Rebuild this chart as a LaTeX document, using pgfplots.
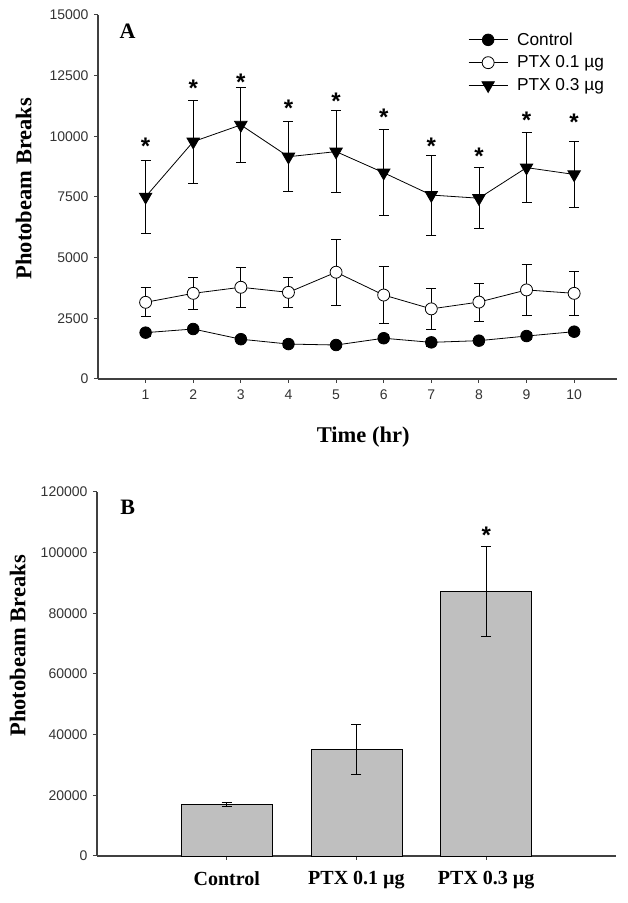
\documentclass[border=0pt]{standalone}
\usepackage{fontspec}
\setmainfont{Liberation Serif}
\newfontfamily\arial{Liberation Sans}
\usepackage{pgfplots}
\pgfplotsset{compat=1.18}

\pgfplotsset{
  panel/.style={
    width=519pt, height=364pt, scale only axis,
    axis x line*=bottom, axis y line*=left,
    axis line style={black!75, line width=1.1pt},
    tick style={black!75, line width=1pt},
    tick align=outside, major tick length=4pt,
    /pgf/number format/assume math mode=true,
    /pgf/number format/fixed,
    /pgf/number format/1000 sep={},
    scaled y ticks=false,
    yticklabel style={font=\arial\fontsize{14}{16}\selectfont, text=black!80, xshift=-2pt},
    ylabel style={font=\bfseries\fontsize{22.5}{26}\selectfont, anchor=center},
    xlabel style={font=\bfseries\fontsize{22.5}{26}\selectfont, anchor=center},
    error bars/error bar style={black, line width=0.8pt},
    error bars/error mark options={black, line width=0.8pt, mark size=5pt, rotate=90},
    clip=false,
  },
  star/.style={draw=none, mark=none, nodes near coords={*},
    every node near coord/.style={anchor=center, inner sep=0pt, yshift=-5pt,
      font=\arial\bfseries\fontsize{24}{24}\selectfont}},
}

\begin{document}
\begin{tikzpicture}
\path[use as bounding box] (0,0) rectangle (628pt,903pt);

% panel A
\begin{axis}[panel, at={(98pt,524pt)}, anchor=south west,
  xmin=0, xmax=10.9, ymin=0, ymax=15000,
  xtick={1,...,10}, ytick={0,2500,...,15000},
  xticklabel style={font=\arial\fontsize{14}{16}\selectfont, text=black!80, yshift=-3pt},
  ylabel={Photobeam Breaks},
  ylabel style={at={(axis description cs:-0.143,0.523)}},
  xlabel={Time (hr)},
  xlabel style={at={(axis description cs:0.511,-0.159)}},
  legend style={draw=none, fill=none, inner sep=0pt,
    at={(axis description cs:0.713,0.957)}, anchor=north west,
    font=\arial\fontsize{17.3}{20}\selectfont, row sep=5pt,
    /tikz/every odd column/.append style={column sep=7pt}},
  legend cell align=left,
  legend image code/.code={\draw[mark repeat=2,mark phase=2,#1]
    plot coordinates {(0pt,0pt) (19.5pt,0pt) (39pt,0pt)};},
]
\addplot[black, line width=0.8pt, mark=*, mark size=5.8pt,
  error bars/.cd, y dir=both, y explicit] coordinates {
  (1,1910) +- (0,150) (2,2060) +- (0,150) (3,1640) +- (0,150)
  (4,1440) +- (0,150) (5,1400) +- (0,150) (6,1680) +- (0,150)
  (7,1510) +- (0,150) (8,1580) +- (0,150) (9,1770) +- (0,150)
  (10,1950) +- (0,150)};
\addplot[black, line width=0.8pt, mark=*, mark size=6pt,
  mark options={fill=white, line width=0.8pt},
  error bars/.cd, y dir=both, y explicit] coordinates {
  (1,3160) +- (0,600) (2,3530) +- (0,650) (3,3780) +- (0,810)
  (4,3570) +- (0,600) (5,4400) +- (0,1370) (6,3460) +- (0,1170)
  (7,2890) +- (0,830) (8,3170) +- (0,790) (9,3670) +- (0,1040)
  (10,3530) +- (0,910)};
\addplot[black, line width=0.8pt, mark=triangle*, mark size=7.2pt,
  mark options={rotate=180},
  error bars/.cd, y dir=both, y explicit] coordinates {
  (1,7510) +- (0,1500) (2,9780) +- (0,1720) (3,10470) +- (0,1550)
  (4,9160) +- (0,1440) (5,9370) +- (0,1700) (6,8500) +- (0,1770)
  (7,7580) +- (0,1650) (8,7450) +- (0,1260) (9,8710) +- (0,1450)
  (10,8430) +- (0,1370)};
\legend{Control,PTX 0.1 µg,PTX 0.3 µg}
\addplot[star, forget plot] coordinates {
  (1,9800) (2,12200) (3,12450) (4,11350) (5,11650)
  (6,11000) (7,9800) (8,9400) (9,10850) (10,10800)};
\node[font=\bfseries\fontsize{22}{26}\selectfont] at (axis description cs:0.057,0.956) {A};
\end{axis}

% panel B
\begin{axis}[panel, at={(97pt,47pt)}, anchor=south west,
  xmin=0, xmax=4, ymin=0, ymax=120000,
  xtick={1,2,3}, ytick={0,20000,...,120000},
  xticklabels={Control,PTX 0.1 µg,PTX 0.3 µg},
  xticklabel style={font=\bfseries\fontsize{20}{24}\selectfont, yshift=-8pt},
  ylabel={Photobeam Breaks},
  ylabel style={at={(axis description cs:-0.153,0.577)}},
]
\addplot[ybar, bar width=0.7, fill=gray!50, draw=black, line width=0.8pt,
  error bars/.cd, y dir=both, y explicit] coordinates {
  (1,16900) +- (0,650) (2,35200) +- (0,8200) (3,87300) +- (0,14800)};
\addplot[star] coordinates {(3,107400)};
\node[font=\bfseries\fontsize{22}{26}\selectfont] at (axis description cs:0.059,0.957) {B};
\end{axis}
\end{tikzpicture}
\end{document}
